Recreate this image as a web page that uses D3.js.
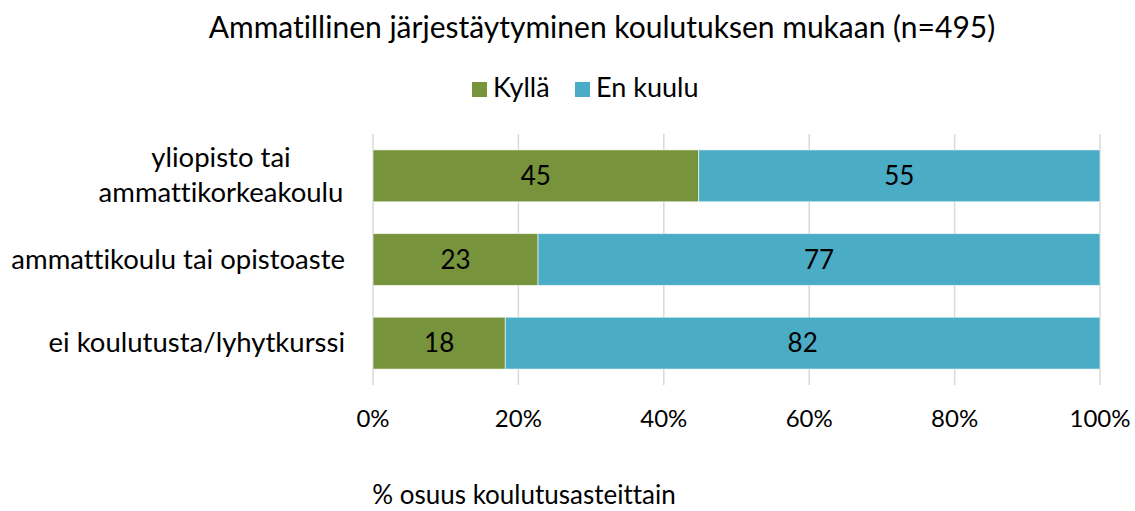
<!DOCTYPE html>
<html>
<head>
<meta charset="utf-8">
<script src="https://cdn.jsdelivr.net/npm/d3@7"></script>
<style>
  body { margin: 0; background: #fff; }
  text { font-family: "Lato", "Open Sans", sans-serif; fill: #000; font-variant-ligatures: none; font-feature-settings: "liga" 0, "clig" 0; }
</style>
</head>
<body>
<div class="chart"></div>
<script>
// Data
var categories = ["yliopisto tai ammattikorkeakoulu", "ammattikoulu tai opistoaste", "ei koulutusta/lyhytkurssi"];
var seriesNames = ["Kyllä", "En kuulu"];
var kylla = [44.8, 22.7, 18.2];
var enKuulu = [55.2, 77.3, 81.8];
var tickValues = [0, 20, 40, 60, 80, 100];
var colors = ["#77933C", "#4BACC6"];

var svgWidth = 1135;
var svgHeight = 511;
var margin = { top: 134, right: 34, bottom: 126, left: 373 };
var width = svgWidth - margin.left - margin.right;
var height = svgHeight - margin.top - margin.bottom;

var svg = d3.select(".chart")
  .append("svg")
  .attr("width", svgWidth)
  .attr("height", svgHeight);

var chart = svg.append("g")
  .attr("transform", "translate(" + margin.left + "," + margin.top + ")");

var x = d3.scaleLinear().domain([0, 100]).range([0, 727]);
var y = d3.scaleBand().domain(categories).range([0, 251])
  .paddingInner(0.38)
  .paddingOuter(0.19);

// gridlines
chart.selectAll(".grid")
  .data(tickValues)
  .enter().append("line")
  .attr("x1", function(d) { return x(d); })
  .attr("x2", function(d) { return x(d); })
  .attr("y1", 0)
  .attr("y2", 251)
  .attr("stroke", "#d9d9d9")
  .attr("stroke-width", 1.5);

// stacked data
var rows = categories.map(function(c, i) {
  return { cat: c, "Kyllä": kylla[i], "En kuulu": enKuulu[i] };
});
var stack = d3.stack().keys(seriesNames)(rows);

var layers = chart.selectAll(".layer")
  .data(stack)
  .enter().append("g")
  .attr("fill", function(d, i) { return colors[i]; });

layers.selectAll("rect")
  .data(function(d) { return d; })
  .enter().append("rect")
  .attr("x", function(d) { return x(d[0]); })
  .attr("width", function(d) { return x(d[1]) - x(d[0]); })
  .attr("y", function(d) { return y(d.data.cat); })
  .attr("height", y.bandwidth())
  .attr("stroke", "#ffffff")
  .attr("stroke-opacity", 0.6)
  .attr("stroke-width", 1);

layers.selectAll("text")
  .data(function(d) { return d; })
  .enter().append("text")
  .attr("x", function(d) { return (x(d[0]) + x(d[1])) / 2; })
  .attr("y", function(d) { return y(d.data.cat) + y.bandwidth() / 2 + 9; })
  .attr("text-anchor", "middle")
  .attr("font-size", "26px")
  .text(function(d) { return Math.round(d[1] - d[0]); });

// x axis tick labels
chart.selectAll(".tick-label")
  .data(tickValues)
  .enter().append("text")
  .attr("x", function(d) { return x(d); })
  .attr("y", 293)
  .attr("text-anchor", "middle")
  .attr("font-size", "24px")
  .text(function(d) { return d + "%"; });

// category labels
var labelLines = [["yliopisto tai", "ammattikorkeakoulu"], ["ammattikoulu tai opistoaste"], ["ei koulutusta/lyhytkurssi"]];
categories.forEach(function(c, i) {
  var lines = labelLines[i];
  var cy = y(c) + y.bandwidth() / 2;
  var t = chart.append("text")
    .attr("font-size", "27.5px");
  if (lines.length > 1) {
    t.attr("text-anchor", "middle");
    lines.forEach(function(l, j) {
      t.append("tspan")
        .attr("x", -152)
        .attr("y", cy + 9 + (j - (lines.length - 1) / 2) * 35)
        .text(l);
    });
  } else {
    t.attr("text-anchor", "end")
      .attr("x", -28)
      .attr("y", cy + 9)
      .text(lines[0]);
  }
});

// title
svg.append("text")
  .attr("x", 602)
  .attr("y", 38)
  .attr("text-anchor", "middle")
  .attr("font-size", "30px")
  .text("Ammatillinen järjestäytyminen koulutuksen mukaan (n=495)");

// legend
var legend = svg.append("g");
var legendX = [472, 575];
seriesNames.forEach(function(s, i) {
  legend.append("rect")
    .attr("x", legendX[i])
    .attr("y", 82)
    .attr("width", 15)
    .attr("height", 15)
    .attr("fill", colors[i]);
  legend.append("text")
    .attr("x", legendX[i] + 21)
    .attr("y", 97)
    .attr("font-size", "27px")
    .text(s);
});

// axis title
svg.append("text")
  .attr("x", 524)
  .attr("y", 504)
  .attr("text-anchor", "middle")
  .attr("font-size", "26px")
  .text("% osuus koulutusasteittain");
</script>
</body>
</html>
